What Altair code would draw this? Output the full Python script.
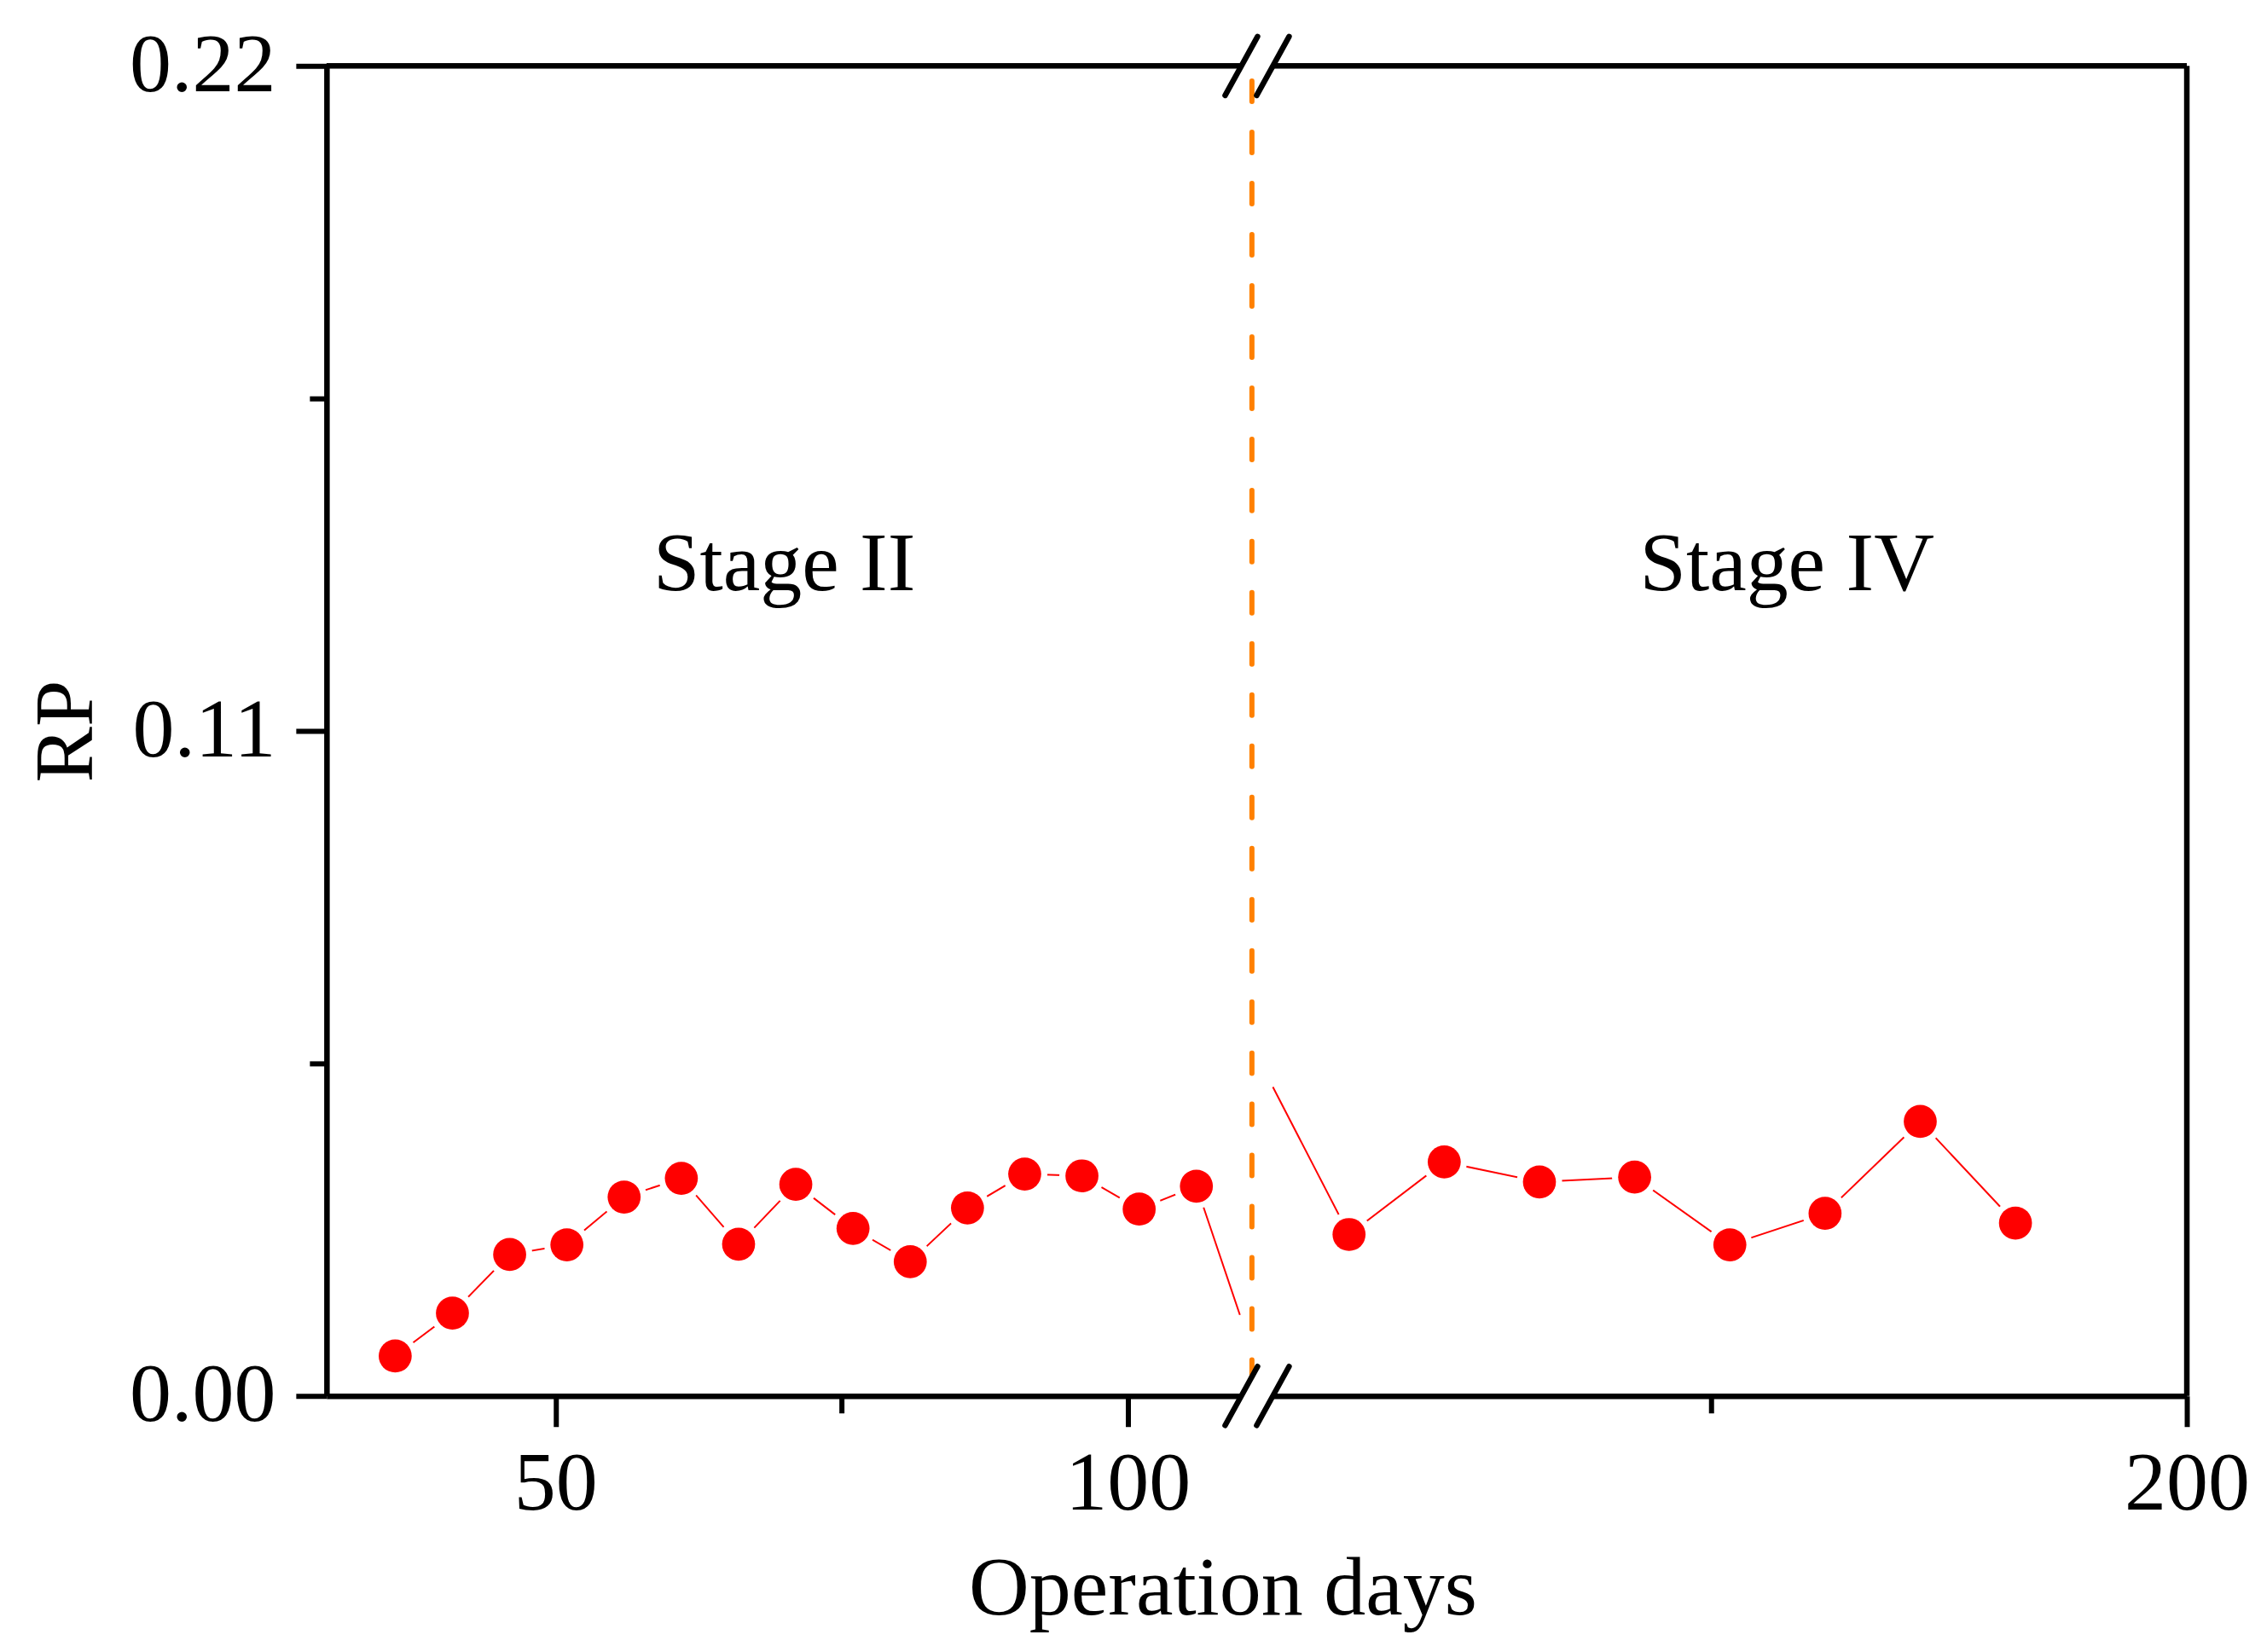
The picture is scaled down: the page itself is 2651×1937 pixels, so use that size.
import pandas as pd
import altair as alt

# Stage II (left segment) and Stage IV (right segment) readings
left_days = [36, 41, 46, 51, 56, 61, 66, 71, 76, 81, 86, 91, 96, 101, 106]
left_rp = [0.0066, 0.0137, 0.0234, 0.0250, 0.0329, 0.0360, 0.0251, 0.0350,
           0.0277, 0.0222, 0.0311, 0.0367, 0.0364, 0.0309, 0.0347]
right_days = [156, 161, 166, 171, 176, 181, 186, 191]
right_rp = [0.0267, 0.0387, 0.0354, 0.0362, 0.0250, 0.0302, 0.0454, 0.0286]

# where the connecting line leaves / enters the break
left_line_end = (109.8, 0.0134)
right_line_start = (152, 0.0511)

left_domain = [30, 110]
right_domain = [152, 200]
y_domain = [0, 0.22]
y_ticks = [0, 0.055, 0.11, 0.165, 0.22]
left_ticks = [50, 75, 100]
right_ticks = [175, 200]
stage_boundary = 110.85

FONT = "Liberation Serif"
FS = 98
W_L, W_R, H = 1074, 1072, 1560
GAP = 36
LW = 6.5

left_pts = pd.DataFrame({"day": left_days, "rp": left_rp})
right_pts = pd.DataFrame({"day": right_days, "rp": right_rp})
left_line = pd.DataFrame({"day": left_days + [left_line_end[0]],
                          "rp": left_rp + [left_line_end[1]]})
right_line = pd.DataFrame({"day": [right_line_start[0]] + right_days,
                           "rp": [right_line_start[1]] + right_rp})
one = pd.DataFrame({"k": [0]})

axis_style = dict(domainColor="black", domainWidth=LW, tickColor="black", tickWidth=6,
                  labelFont=FONT, labelFontSize=FS, labelColor="black", grid=False,
                  labelFlush=False, labelOverlap=False)
major_x = {"condition": {"test": "datum.value % 50 == 0", "value": 36}, "value": 20}
major_y = {"condition": {"test": "round(datum.value * 1000) % 110 == 0", "value": 36}, "value": 20}


def xs(domain):
    return alt.Scale(domain=domain, nice=False, zero=False)


ys = alt.Scale(domain=y_domain, nice=False, zero=False)


def panel(pts, line_df, domain, bottom_axis, y_axis, stage, stage_day):
    line = alt.Chart(line_df).mark_line(color="#FF0000", strokeWidth=2).encode(
        x=alt.X("day:Q", scale=xs(domain), axis=bottom_axis),
        y=alt.Y("rp:Q", scale=ys, axis=y_axis),
    )
    halo = alt.Chart(pts).mark_circle(size=2830, color="white", opacity=1).encode(
        x=alt.X("day:Q", scale=xs(domain), axis=None),
        y=alt.Y("rp:Q", scale=ys, axis=None),
    )
    dots = alt.Chart(pts).mark_circle(size=1500, color="#FF0000", opacity=1).encode(
        x=alt.X("day:Q", scale=xs(domain), axis=None),
        y=alt.Y("rp:Q", scale=ys, axis=None),
    )
    label = alt.Chart(pd.DataFrame({"day": [stage_day], "rp": [0.1333], "t": [stage]})).mark_text(
        font=FONT, fontSize=FS, color="black", align="center", baseline="alphabetic"
    ).encode(
        x=alt.X("day:Q", scale=xs(domain), axis=None),
        y=alt.Y("rp:Q", scale=ys, axis=None),
        text="t:N",
    )
    # top frame line
    top = alt.Chart(one).mark_rule(color="black", strokeWidth=LW).encode(
        x=alt.XDatum(domain[0], scale=xs(domain), axis=None),
        x2=alt.X2Datum(domain[1]),
        y=alt.YDatum(y_domain[1], scale=ys, axis=None),
    )
    return [line, halo, dots, label, top]


left_bottom = alt.Axis(values=left_ticks, tickSize=major_x, labelPadding=20,
                       labelExpr="datum.value % 50 == 0 ? datum.label : ''",
                       title="Operation days", titleFont=FONT, titleFontSize=FS,
                       titleFontWeight="normal", titleColor="black", titleX=1051, titleY=256,
                       titleAlign="center", titleBaseline="alphabetic", **axis_style)
left_y = alt.Axis(values=y_ticks, tickSize=major_y, labelPadding=24, format=".2f",
                  labelExpr="round(datum.value * 1000) % 110 == 0 ? datum.label : ''",
                  title="RP", titleFont=FONT, titleFontSize=FS, titleFontWeight="normal",
                  titleColor="black", titleAngle=270, titleX=-275, titleY=H / 2,
                  titleAlign="center", titleBaseline="alphabetic", **axis_style)
right_bottom = alt.Axis(values=right_ticks, tickSize=major_x, labelPadding=20,
                        labelExpr="datum.value % 50 == 0 ? datum.label : ''",
                        title=None, **axis_style)

left_layers = panel(left_pts, left_line, left_domain, left_bottom, left_y, "Stage II", 70)
right_layers = panel(right_pts, right_line, right_domain, right_bottom, None, "Stage IV", 179)

# right frame line
right_edge = alt.Chart(one).mark_rule(color="black", strokeWidth=LW).encode(
    x=alt.XDatum(right_domain[1], scale=xs(right_domain), axis=None),
    y=alt.YDatum(y_domain[0], scale=ys, axis=None),
    y2=alt.Y2Datum(y_domain[1]),
)

# stage boundary: dashed orange line
boundary = alt.Chart(one).mark_rule(color="#FF8000", strokeWidth=6, strokeDash=[24, 36],
                                    strokeCap="round").encode(
    x=alt.XDatum(stage_boundary, scale=xs(left_domain), axis=None),
    y=alt.YDatum(0.2175, scale=ys, axis=None),
    y2=alt.Y2Datum(0.0032),
)


# axis break marks "//" on top and bottom axes
def slashes(x0):
    out = []
    for yc in (0, H):
        out.append(alt.Chart(one).mark_rule(color="black", strokeWidth=LW, strokeCap="round").encode(
            x=alt.value(x0 - 19), x2=alt.value(x0 + 19),
            y=alt.value(yc + 34.5), y2=alt.value(yc - 34.5),
        ))
    return out


no_frame = alt.ViewBackground(stroke=None, strokeWidth=0, fill=None)

left = alt.layer(*left_layers, boundary, *slashes(W_L - 1)).resolve_axis(
    x="independent", y="independent").properties(width=W_L, height=H, view=no_frame)
right = alt.layer(*right_layers, right_edge, *slashes(0)).resolve_axis(
    x="independent", y="independent").properties(width=W_R, height=H, view=no_frame)

chart = alt.hconcat(left, right, spacing=GAP, bounds="flush").properties(
    padding={"left": 22, "top": 20, "right": 5, "bottom": 5}
).configure_view(stroke=None, strokeWidth=0).configure(background="white")

chart.save("out.html", embed_options={"renderer": "svg", "actions": False})
